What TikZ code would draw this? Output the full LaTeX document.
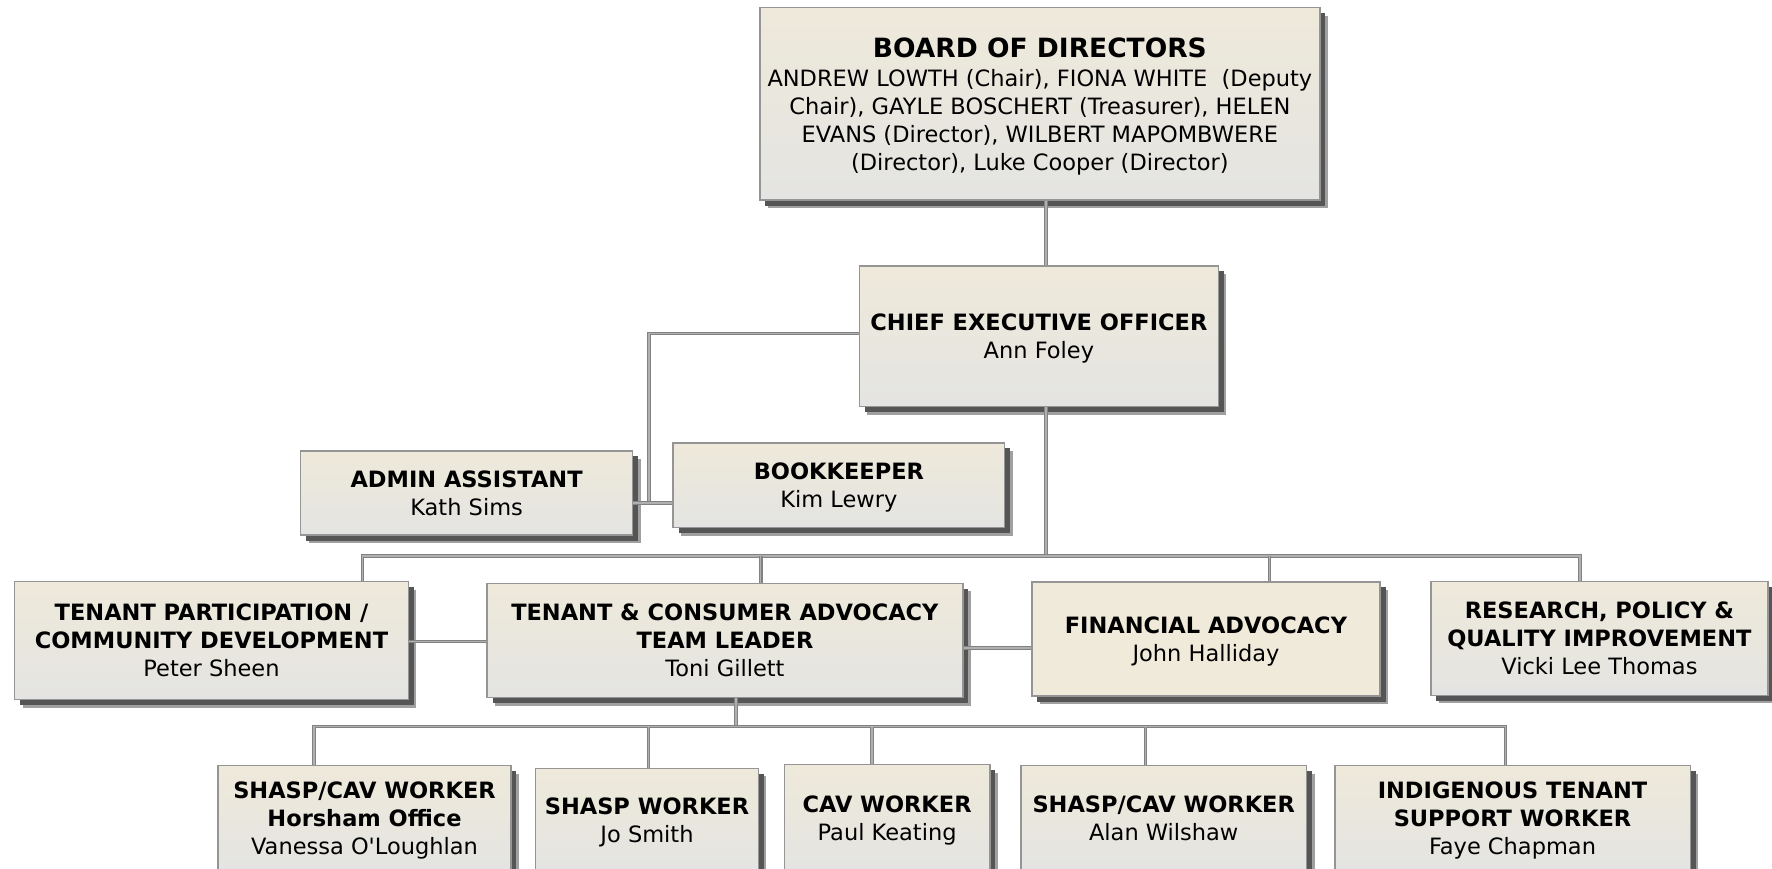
\documentclass[tikz,border=0pt]{standalone}
\usepackage{fontspec}
\setmainfont{DejaVu Sans}[Ligatures=TeXOff]
\usetikzlibrary{shadows}

\definecolor{boxtop}{HTML}{EEE9DA}
\definecolor{boxbot}{HTML}{E4E4E2}
\definecolor{boxbeige}{HTML}{F0EADA}
\definecolor{boxline}{HTML}{959595}
\definecolor{shadowdark}{HTML}{555555}
\definecolor{shadowsoft}{HTML}{A0A0A0}
\definecolor{linedark}{HTML}{828282}
\definecolor{linelight}{HTML}{B0B0B0}

\tikzset{
  orgbox/.style={rectangle, draw=boxline, line width=1.5pt,
    top color=boxtop, bottom color=boxbot, align=center, inner sep=0pt,
    text=black, font=\fontsize{22.5}{28}\selectfont, text depth=-2pt,
    general shadow={shadow xshift=8pt, shadow yshift=-8pt, fill=shadowsoft},
    general shadow={shadow xshift=5.5pt, shadow yshift=-5.5pt, fill=shadowdark}},
  plainbox/.style={orgbox, top color=boxbeige, bottom color=boxbeige},
  conn/.style={draw=linedark, line width=1.1pt, double=linelight, double distance=1.4pt},
}

\begin{document}
\begin{tikzpicture}[x=1pt, y=-1pt]
\useasboundingbox (0,0) rectangle (1772,869);
\clip (0,0) rectangle (1772,869);

% board and chief executive
\node[orgbox, text depth=-7pt, minimum width=560pt, minimum height=192.5pt] (board) at (1039.9,103.8)
  {{\fontsize{26.5}{30}\selectfont\bfseries BOARD OF DIRECTORS}\\[1pt]
   ANDREW LOWTH (Chair), FIONA WHITE\ \ (Deputy\\
   Chair), GAYLE BOSCHERT (Treasurer), HELEN\\
   EVANS (Director), WILBERT MAPOMBWERE\\
   (Director), Luke Cooper (Director)};
\node[orgbox, minimum width=359pt, minimum height=140.7pt] (ceo) at (1038.9,336.3)
  {\textbf{CHIEF EXECUTIVE OFFICER}\\Ann Foley};

% support staff
\node[orgbox, minimum width=332pt, minimum height=84.3pt] (admin) at (466.6,492.9)
  {\textbf{ADMIN ASSISTANT}\\Kath Sims};
\node[orgbox, minimum width=331.4pt, minimum height=84.7pt] (bk) at (838.9,485.3)
  {\textbf{BOOKKEEPER}\\Kim Lewry};

% program areas
\node[orgbox, minimum width=393.7pt, minimum height=117.8pt] (tp) at (211.5,640.6)
  {\textbf{TENANT PARTICIPATION /}\\\textbf{COMMUNITY DEVELOPMENT}\\Peter Sheen};
\node[orgbox, minimum width=475.9pt, minimum height=114.4pt] (tc) at (725,640.5)
  {\textbf{TENANT \& CONSUMER ADVOCACY}\\\textbf{TEAM LEADER}\\Toni Gillett};
\node[plainbox, minimum width=348.1pt, minimum height=114.3pt] (fa) at (1206,638.9)
  {\textbf{FINANCIAL ADVOCACY}\\John Halliday};
\node[orgbox, minimum width=337pt, minimum height=113.6pt] (rp) at (1599.4,638.5)
  {\textbf{RESEARCH, POLICY \&}\\\textbf{QUALITY IMPROVEMENT}\\Vicki Lee Thomas};

% workers
\node[orgbox, minimum width=292.8pt, minimum height=105.5pt] (w1) at (364.5,818.3)
  {\textbf{SHASP/CAV WORKER}\\\textbf{Horsham Office}\\Vanessa O'Loughlan};
\node[orgbox, minimum width=222.7pt, minimum height=102.6pt] (w2) at (647,819.7)
  {\textbf{SHASP WORKER}\\Jo Smith};
\node[orgbox, minimum width=205.4pt, minimum height=106.5pt] (w3) at (887.1,817.8)
  {\textbf{CAV WORKER}\\Paul Keating};
\node[orgbox, minimum width=285.9pt, minimum height=105.5pt] (w4) at (1163.7,818.3)
  {\textbf{SHASP/CAV WORKER}\\Alan Wilshaw};
\node[orgbox, minimum width=355.5pt, minimum height=105.5pt] (w5) at (1512.5,818.3)
  {\textbf{INDIGENOUS TENANT}\\\textbf{SUPPORT WORKER}\\Faye Chapman};

% routing points of the connectors
\coordinate (spine) at (1046,0);
\coordinate (abj) at (649,503);
\coordinate (b3) at (0,556);
\coordinate (d1) at (362.3,0);
\coordinate (d2) at (760.7,0);
\coordinate (d3) at (1269.3,0);
\coordinate (d4) at (1580,0);
\coordinate (tpy) at (0,641.5);
\coordinate (fay) at (0,648);
\coordinate (b4) at (0,726.5);
\coordinate (e0) at (735.8,0);
\coordinate (e1) at (313.8,0);
\coordinate (e2) at (648.5,0);
\coordinate (e3) at (872,0);
\coordinate (e4) at (1145.5,0);
\coordinate (e5) at (1505.5,0);

% connectors
\draw[conn] (spine |- board.south) -- (spine |- ceo.north);
\draw[conn] ([yshift=3pt]ceo.west) -| (abj);
\draw[conn] (admin.east |- abj) -- (bk.west |- abj);
\draw[conn] (spine |- ceo.south) -- (spine |- b3);
\draw[conn] (d1 |- tp.north) -- (d1 |- b3) -- (d4 |- b3) -- (d4 |- rp.north);
\draw[conn] (d2 |- b3) -- (d2 |- tc.north);
\draw[conn] (d3 |- b3) -- (d3 |- fa.north);
\draw[conn] (tp.east |- tpy) -- (tc.west |- tpy);
\draw[conn] (tc.east |- fay) -- (fa.west |- fay);
\draw[conn] (e0 |- tc.south) -- (e0 |- b4);
\draw[conn] (e1 |- w1.north) -- (e1 |- b4) -- (e5 |- b4) -- (e5 |- w5.north);
\draw[conn] (e2 |- b4) -- (e2 |- w2.north);
\draw[conn] (e3 |- b4) -- (e3 |- w3.north);
\draw[conn] (e4 |- b4) -- (e4 |- w4.north);
\end{tikzpicture}
\end{document}
